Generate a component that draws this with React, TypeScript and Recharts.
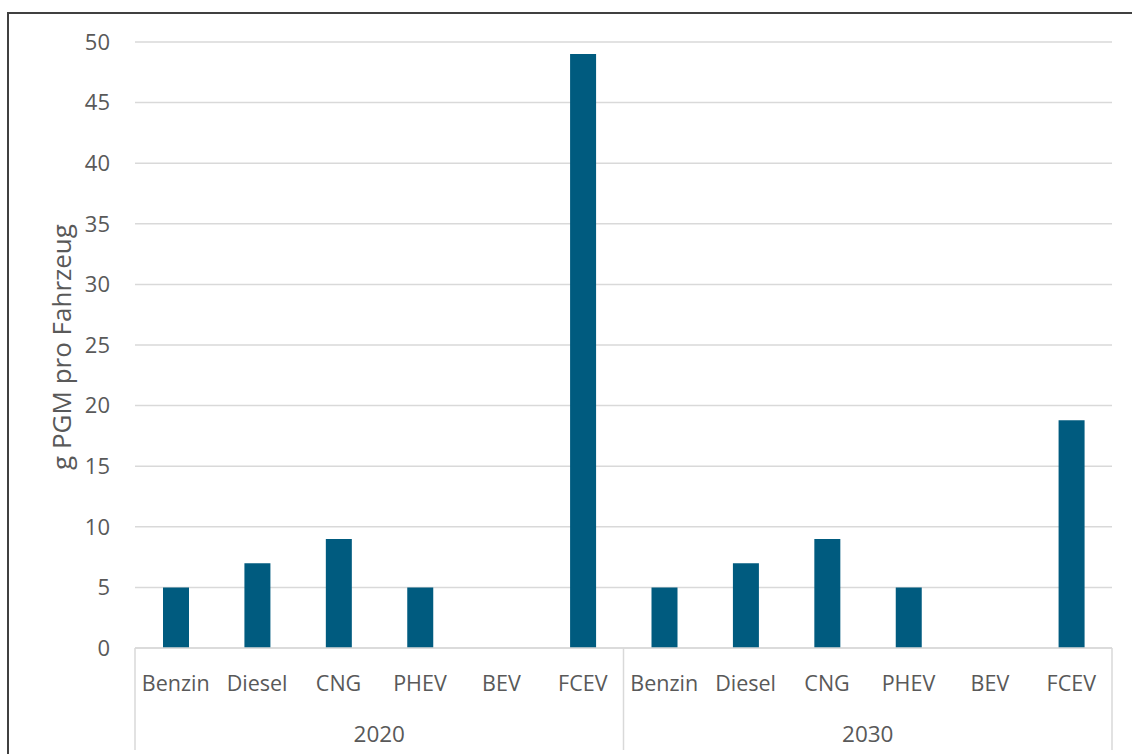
import React from 'react';
import { BarChart, Bar, XAxis, YAxis, CartesianGrid } from 'recharts';

const categories = ['Benzin', 'Diesel', 'CNG', 'PHEV', 'BEV', 'FCEV'];
const years = ['2020', '2030'];
const values2020 = [5, 7, 9, 5, 0, 49];
const values2030 = [5, 7, 9, 5, 0, 18.8];
const yTicks = [0, 5, 10, 15, 20, 25, 30, 35, 40, 45, 50];
const yLabel = 'g PGM pro Fahrzeug';

const seriesByYear = [values2020, values2030];
const data = years.flatMap((year, yi) =>
  categories.map((cat, ci) => ({
    key: `${year}-${cat}`,
    name: cat,
    year,
    value: seriesByYear[yi][ci],
  }))
);

const FONT = '"Open Sans", "Noto Sans", sans-serif';
const TEXT = '#595959';
const GRID = '#d9d9d9';
const BAR = '#005b7f';
const FS = 21.5;

const CatTick = (props: any) => {
  const { x, y, payload } = props;
  const i: number = payload?.index ?? props.index ?? 0;
  const half: number = payload?.offset ?? 40.7;
  const d = data[i];
  const groupSize = categories.length;
  return (
    <g>
      <text x={x} y={y + 43} textAnchor="middle" fill={TEXT} fontSize={FS} fontFamily={FONT}>
        {d.name}
      </text>
      {i % groupSize === 0 && (
        <line x1={x - half} x2={x - half} y1={y} y2={y + 102} stroke={GRID} strokeWidth={1.5} />
      )}
      {i === data.length - 1 && (
        <line x1={x + half} x2={x + half} y1={y} y2={y + 102} stroke={GRID} strokeWidth={1.5} />
      )}
      {i % groupSize === Math.floor(groupSize / 2) - 1 && (
        <text x={x + half} y={y + 94} textAnchor="middle" fill={TEXT} fontSize={22.5} fontFamily={FONT}>
          {d.year}
        </text>
      )}
    </g>
  );
};

const YLabel = (props: any) => {
  const vb = props.viewBox || { x: 0, y: 42, width: 135, height: 606 };
  const cx = vb.x + 61;
  const cy = vb.y + vb.height / 2 + 2;
  return (
    <text
      x={cx}
      y={cy}
      transform={`rotate(-90, ${cx}, ${cy})`}
      textAnchor="middle"
      dominantBaseline="central"
      fill={TEXT}
      fontSize={26}
      fontFamily={FONT}
    >
      {yLabel}
    </text>
  );
};

export default function App() {
  return (
    <div
      style={{
        position: 'fixed',
        left: 0,
        top: 0,
        width: 1132,
        height: 754,
        overflow: 'hidden',
        background: '#fff',
      }}
    >
      <div
        style={{
          position: 'absolute',
          left: 7,
          top: 12,
          width: 1300,
          height: 900,
          border: '2px solid #404040',
          boxSizing: 'border-box',
        }}
      />
      <div style={{ position: 'absolute', left: 0, top: 0 }}>
        <BarChart
          width={1132}
          height={754}
          data={data}
          margin={{ top: 42, right: 20, bottom: 0, left: 0 }}
          barSize={26}
        >
          <CartesianGrid horizontal vertical={false} stroke={GRID} strokeWidth={1.5} />
          <XAxis
            dataKey="key"
            interval={0}
            height={106}
            tickLine={false}
            tickSize={0}
            tickMargin={0}
            axisLine={{ stroke: GRID, strokeWidth: 1.5 }}
            tick={<CatTick />}
          />
          <YAxis
            width={135}
            domain={[0, 50]}
            ticks={yTicks}
            interval={0}
            axisLine={false}
            tickLine={false}
            tickSize={0}
            tickMargin={25}
            tick={{ fill: TEXT, fontSize: 22, fontFamily: FONT }}
            label={<YLabel />}
          />
          <Bar dataKey="value" fill={BAR} isAnimationActive={false} />
        </BarChart>
      </div>
    </div>
  );
}
